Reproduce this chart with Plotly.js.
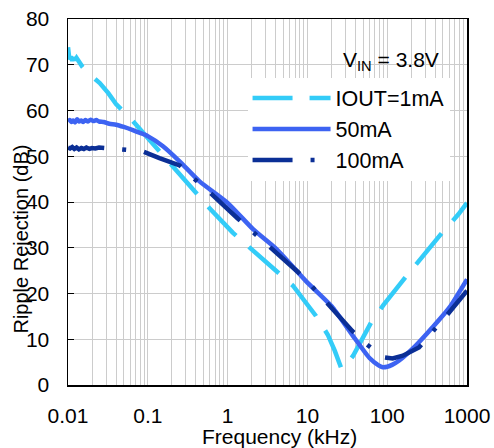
<!DOCTYPE html>
<html>
<head>
<meta charset="utf-8">
<script src="https://cdn.plot.ly/plotly-3.0.1.min.js"></script>
<style>html,body{margin:0;padding:0;background:#fff;}#chart{width:494px;height:448px;}</style>
</head>
<body>
<div id="chart"></div>
<script>
// Frequency in kHz, ripple rejection in dB
const freq1mA = [0.0100, 0.0101, 0.0104, 0.0108, 0.0113, 0.0118, 0.0123, 0.0128, 0.0135, 0.0143, 0.0151, 0.0170, 0.0205, 0.025, 0.032, 0.040, 0.062, 0.105, 0.17, 0.40, 0.59, 1.16, 1.9, 4.1, 6.6, 12.8, 18.0, 22.0, 26.8, 30.0, 37.4, 63, 89, 174, 257, 505, 780, 1000];
const rr1mA   = [73.8, 72.5, 71.2, 71.8, 70.9, 71.6, 71.0, 71.5, 70.8, 70.2, 69.6, 68.5, 67.2, 66.0, 63.8, 61.4, 58.1, 53.6, 49.3, 42.0, 38.7, 33.3, 30.0, 24.9, 21.7, 15.1, 11.0, 7.5, 3.5, 4.2, 6.4, 13.7, 17.4, 23.8, 27.5, 33.6, 37.3, 39.8];

const freq50mA = [0.0100, 0.0105, 0.0110, 0.0116, 0.0122, 0.0130, 0.0138, 0.0146, 0.0155, 0.0165, 0.0178, 0.0192, 0.0208, 0.0226, 0.0245, 0.028, 0.033, 0.040, 0.050, 0.065, 0.080, 0.100, 0.155, 0.25, 0.445, 1.0, 2.1, 4.1, 9.6, 20.8, 37, 60, 78, 88, 100, 115, 140, 228, 370, 600, 1000];
const rr50mA   = [57.6, 57.9, 57.5, 57.8, 57.4, 58.1, 57.6, 57.8, 57.5, 57.9, 57.6, 58.0, 57.7, 57.9, 57.6, 57.5, 57.1, 56.9, 56.4, 55.7, 55.1, 54.4, 52.2, 48.9, 44.5, 39.8, 34.0, 29.7, 22.7, 16.9, 10.8, 5.9, 4.3, 3.9, 4.0, 4.4, 5.3, 8.6, 12.6, 16.9, 23.1];

const freq100mA = [0.0100, 0.0106, 0.0113, 0.0120, 0.0128, 0.0137, 0.0147, 0.0158, 0.0170, 0.0185, 0.0200, 0.0220, 0.0245, 0.029, 0.0497, 0.085, 0.14, 0.25, 0.38, 0.59, 1.34, 2.1, 3.3, 7.6, 11.5, 17.3, 36.5, 56, 88, 117, 157, 250, 375, 550, 1000];
const rr100mA   = [51.9, 51.7, 52.0, 51.6, 51.9, 51.5, 51.8, 51.6, 51.9, 51.6, 51.8, 51.7, 51.9, 51.8, 51.5, 51.1, 49.6, 48.0, 45.1, 42.2, 36.4, 33.3, 30.2, 24.7, 21.5, 18.0, 11.8, 8.8, 6.1, 5.8, 6.4, 8.2, 11.6, 15.1, 20.6];

const seriesNames = ["IOUT=1mA", "50mA", "100mA"];
const xTickVals = [];
const xTickText = [];
const decades = [0.01, 0.1, 1, 10, 100, 1000];
decades.forEach(function (d, i) {
  for (let m = 1; m <= 9; m++) {
    if (i === decades.length - 1 && m > 1) break;
    xTickVals.push(d * m);
    xTickText.push(m === 1 ? String(d) : " ");
  }
});
const yTickVals = [0, 10, 20, 30, 40, 50, 60, 70, 80];

const FONT = "Liberation Sans, Arial, sans-serif";
const FS = 21;

const traces = [
  {x: freq1mA, y: rr1mA, name: seriesNames[0], mode: "lines",
   line: {color: "#33ccf8", width: 4.5, dash: "40px,17px"}},
  {x: freq50mA, y: rr50mA, name: seriesNames[1], mode: "lines",
   line: {color: "#3d63f2", width: 4.5, shape: "spline", smoothing: 0.6}},
  {x: freq100mA, y: rr100mA, name: seriesNames[2], mode: "lines",
   line: {color: "#0b2f96", width: 4.5, dash: "40px,18px,4px,18px"}}
];

const layout = {
  width: 494, height: 448,
  margin: {l: 68, r: 27, t: 19, b: 63, pad: 0},
  paper_bgcolor: "#ffffff", plot_bgcolor: "#ffffff",
  font: {family: FONT, size: FS, color: "#000"},
  showlegend: true,
  legend: {x: 0.45, y: 0.84, xanchor: "left", yanchor: "top",
    bgcolor: "#ffffff", borderwidth: 0, font: {family: FONT, size: 21.5, color: "#000"},
    tracegroupgap: 0, itemwidth: 78},
  xaxis: {type: "log", range: [-2, 3], tickmode: "array", tickvals: xTickVals, ticktext: xTickText,
    tickangle: 0, automargin: false,
    showgrid: true, gridcolor: "#cccccc", gridwidth: 1,
    showline: true, linecolor: "#000", linewidth: 1.5, mirror: true,
    ticks: "", zeroline: false, ticklabelstandoff: 11,
    tickfont: {family: FONT, size: FS, color: "#000"}},
  yaxis: {range: [0, 80], tickmode: "array", tickvals: yTickVals, automargin: false,
    showgrid: true, gridcolor: "#cccccc", gridwidth: 1,
    showline: true, linecolor: "#000", linewidth: 1.5, mirror: true,
    ticks: "inside", ticklen: 6, tickcolor: "#000", zeroline: false, ticklabelstandoff: 13,
    tickfont: {family: FONT, size: FS, color: "#000"}},
  annotations: [
    {text: "Ripple Rejection (dB)", xref: "paper", yref: "paper", x: -0.118, y: 0.40,
     xanchor: "center", yanchor: "middle", textangle: -90, showarrow: false,
     font: {family: FONT, size: 20, color: "#000"}},
    {text: "Frequency (kHz)", xref: "paper", yref: "paper", x: 0.53, y: -0.142,
     xanchor: "center", yanchor: "middle", showarrow: false,
     font: {family: FONT, size: FS, color: "#000"}},
    {text: "V<sub>IN</sub> = 3.8V", xref: "paper", yref: "paper", x: 0.935, y: 0.885,
     xanchor: "right", yanchor: "middle", showarrow: false,
     font: {family: FONT, size: FS, color: "#000"}}
  ]
};

Plotly.newPlot("chart", traces, layout, {displayModeBar: false, staticPlot: true});
</script>
</body>
</html>
